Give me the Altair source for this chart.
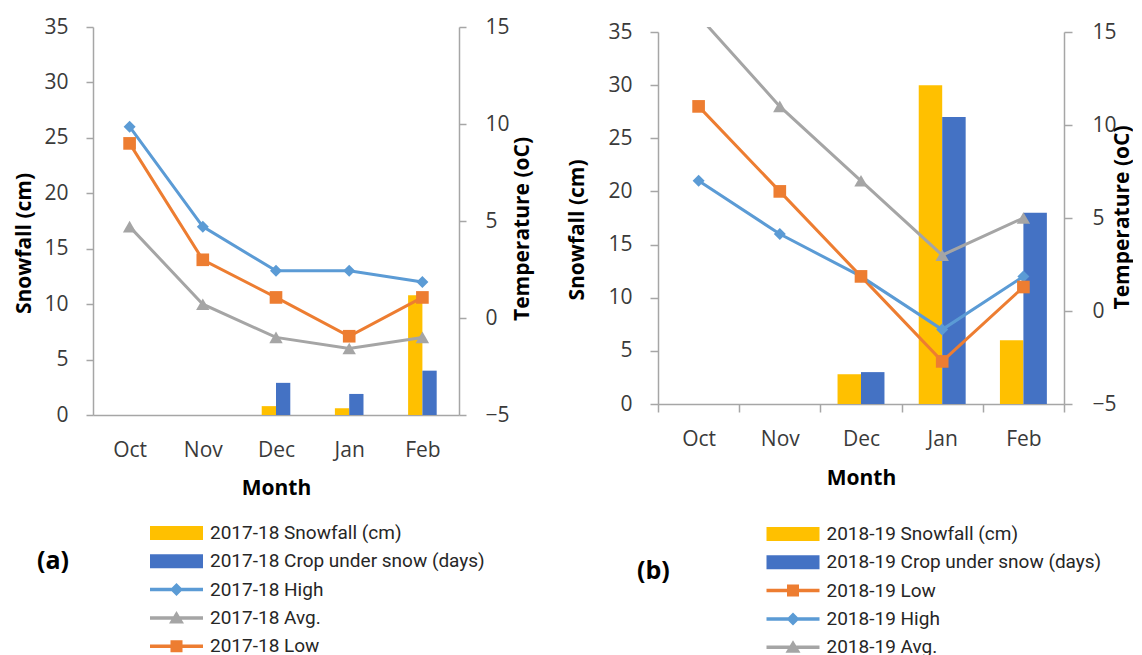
import altair as alt
import pandas as pd

months = ["Oct", "Nov", "Dec", "Jan", "Feb"]
month_idx = [0, 1, 2, 3, 4]

# ---- panel (a) 2017-18 ----
a_season = "2017-18"
a_snowfall = [0, 0, 0.8, 0.6, 10.8]
a_crop = [0, 0, 2.9, 1.9, 4.0]
a_high = [9.86, 4.71, 2.43, 2.43, 1.86]
a_avg = [4.71, 0.71, -1.0, -1.57, -1.0]
a_low = [9.0, 3.0, 1.06, -0.94, 1.06]

# ---- panel (b) 2018-19 ----
b_season = "2018-19"
b_snowfall = [0, 0, 2.8, 30.0, 6.0]
b_crop = [0, 0, 3.0, 27.0, 18.0]
b_low = [11.0, 6.43, 1.86, -2.71, 1.29]
b_high = [7.0, 4.14, 1.86, -1.0, 1.86]
b_avg = [15.86, 11.0, 7.0, 3.0, 5.0]

snow_ticks = [0, 5, 10, 15, 20, 25, 30, 35]
temp_ticks = [-5, 0, 5, 10, 15]

COLORS = {"snow": "#FFC000", "crop": "#4472C4", "high": "#5B9BD5",
          "avg": "#A5A5A5", "low": "#ED7D31"}
LINE_P = "M-5.3,-0.35H5.3V0.35H-5.3Z"
PATHS = {
    "snow": "M-5.3,-1.4H5.3V1.4H-5.3Z",
    "crop": "M-5.3,-1.4H5.3V1.4H-5.3Z",
    "high": LINE_P + "M-1.3,0L0,-1.3L1.3,0L0,1.3Z",
    "avg": LINE_P + "M-1.5,1.1L0,-1.4L1.5,1.1Z",
    "low": LINE_P + "M-1.2,-1.2H1.2V1.2H-1.2Z",
}
MARKERS = {"high": ("diamond", 144), "avg": ("triangle-up", 180), "low": ("square", 160)}
DRAW_ORDER = ["high", "avg", "low"]

GRAY = "#A6A6A6"
LABEL = "#3a3a3a"
FONT = "Open Sans"
LEG_FONT = "Roboto"


def panel(tag, season, snowfall, crop, temps, order, width, height, top_gap, n_pad, bar_pad,
          x_ticks, ytick, lpad_left, lpad_right, left_title_x, right_title_x,
          left_title_y, right_title_y, xlabel_pad, month_title_y,
          leg_width, leg_step, tag_dx, tag_dy, gap):
    names = {"snow": f"{season} Snowfall (cm)",
             "crop": f"{season} Crop under snow (days)",
             "high": f"{season} High", "avg": f"{season} Avg.", "low": f"{season} Low"}
    dom = [names[k] for k in order]
    pal = [COLORS[k] for k in order]
    paint_scale = alt.Scale(domain=dom, range=pal)
    shape_scale = alt.Scale(domain=dom, range=[PATHS[k] for k in order])

    bar_df = pd.DataFrame({
        "month": months * 2,
        "series": [names["snow"]] * 5 + [names["crop"]] * 5,
        "value": list(snowfall) + list(crop),
    })
    rows = []
    for k, vals in temps.items():
        for m, i, v in zip(months, month_idx, vals):
            rows.append({"month": m, "idx": i, "series": names[k], "kind": k, "temp": v})
    temp_df = pd.DataFrame(rows)

    x_axis = alt.Axis(
        title="Month", labelAngle=0, labelFont=FONT, labelFontSize=21, labelColor=LABEL,
        labelPadding=xlabel_pad, ticks=x_ticks, tickSize=8 if x_ticks else 0,
        tickBand="extent", tickColor=GRAY, tickWidth=1.5, domainColor=GRAY, domainWidth=1.5,
        titleFont=FONT, titleFontWeight="bold", titleFontSize=21, titleColor="#000000",
        titleY=month_title_y, titleBaseline="middle", grid=False)
    x_scale = alt.Scale(type="band", paddingInner=0, paddingOuter=0)
    x_enc = alt.X("month:N", sort=months, scale=x_scale, axis=x_axis)

    full_h = height + top_gap
    y_left = alt.Y("value:Q",
                   scale=alt.Scale(domain=[0, 35], nice=False, range=[full_h, top_gap]),
                   axis=alt.Axis(values=snow_ticks, title="Snowfall (cm)", orient="left",
                                 labelFont=FONT, labelFontSize=21, labelColor=LABEL,
                                 labelPadding=lpad_left, tickSize=ytick, tickColor=GRAY,
                                 tickWidth=1.5, domainColor=GRAY, domainWidth=1.5,
                                 titleFont=FONT, titleFontWeight="bold", titleFontSize=21,
                                 titleColor="#000000", titleAngle=270, titleX=left_title_x,
                                 titleY=left_title_y, titleBaseline="middle", grid=False))
    y_right = alt.Y("temp:Q",
                    scale=alt.Scale(domain=[-5, 15], nice=False, zero=False,
                                    range=[full_h, top_gap]),
                    axis=alt.Axis(values=temp_ticks, title="Temperature (oC)", orient="right",
                                  labelFont=FONT, labelFontSize=21, labelColor=LABEL,
                                  labelPadding=lpad_right, tickSize=ytick, tickColor=GRAY,
                                  tickWidth=1.5, domainColor=GRAY, domainWidth=1.5,
                                  titleFont=FONT, titleFontWeight="bold", titleFontSize=21,
                                  titleColor="#000000", titleAngle=270, titleX=right_title_x,
                                  titleY=right_title_y, titleBaseline="middle", grid=False))

    # sub-band layout inside each month: optional empty slots either side of the bar pair
    xoff_domain = (["pad_l"] * (1 if n_pad else 0) + [names["snow"], names["crop"]]
                   + ["pad_r"] * (1 if n_pad else 0))
    bars = alt.Chart(bar_df).mark_bar().encode(
        x=x_enc,
        xOffset=alt.XOffset("series:N", scale=alt.Scale(
            domain=xoff_domain, paddingInner=0, paddingOuter=bar_pad)),
        y=y_left,
        fill=alt.Fill("series:N", scale=paint_scale, legend=None),
    )

    lines = alt.Chart(temp_df).mark_line(strokeWidth=3, clip=True).encode(
        x=x_enc, y=y_right, order=alt.Order("idx:Q"),
        stroke=alt.Stroke("series:N", scale=paint_scale, legend=None),
    )
    pts = []
    for k in DRAW_ORDER:
        shp, sz = MARKERS[k]
        pts.append(alt.Chart(temp_df).transform_filter(alt.datum.kind == k).mark_point(
            shape=shp, size=sz, filled=True, opacity=1, clip=True, strokeWidth=0).encode(
            x=x_enc, y=y_right,
            fill=alt.Fill("series:N", scale=paint_scale, legend=None)))
    temp_layer = alt.layer(lines, *pts)

    plot = alt.layer(bars, temp_layer).resolve_scale(y="independent").properties(
        width=width, height=full_h)

    # ---- legend block drawn below the plot ----
    leg_df = pd.DataFrame({"series": dom})
    tag_df = pd.DataFrame({"series": [dom[1]], "tag": [tag]})
    y_leg = alt.Y("series:N", sort=dom, axis=None,
                  scale=alt.Scale(type="point", domain=dom, padding=0))
    sym = alt.Chart(leg_df).mark_point(filled=True, size=100, strokeWidth=0, opacity=1).encode(
        y=y_leg,
        shape=alt.Shape("series:N", scale=shape_scale, legend=None),
        fill=alt.Fill("series:N", scale=paint_scale, legend=None),
    )
    lab = alt.Chart(leg_df).mark_text(
        align="left", baseline="middle", dx=33.5, font=LEG_FONT, fontSize=19,
        color="#262626").encode(y=y_leg, text="series:N")
    tagm = alt.Chart(tag_df).mark_text(
        align="left", baseline="middle", dx=tag_dx, dy=tag_dy, font=FONT, fontSize=25,
        fontWeight="bold", color="#000000").encode(y=y_leg, text="tag:N")
    legend_block = alt.layer(sym, lab, tagm).properties(width=leg_width, height=4 * leg_step)

    return alt.vconcat(plot, legend_block, spacing=gap)


pa = panel("(a)", a_season, a_snowfall, a_crop,
           {"high": a_high, "avg": a_avg, "low": a_low},
           ["snow", "crop", "high", "avg", "low"],
           366, 388, 0, True, 0.56, False, 7, 18, 19, -69, 63, 216, 201.5, 24, 73,
           167, 28.3, -139.5, 0, 26)
pb = panel("(b)", b_season, b_snowfall, b_crop,
           {"low": b_low, "high": b_high, "avg": b_avg},
           ["snow", "crop", "low", "high", "avg"],
           406, 372, 5, False, 0.73, True, 8, 18, 20, -81, 58, 202.5, 190, 16, 74,
           270, 28.3, -156, 9, 37)

chart = alt.hconcat(pa, pb, spacing=34).resolve_scale(
    shape="independent", fill="independent", stroke="independent", xOffset="independent"
).properties(
    padding={"left": 5, "top": 8, "right": 1, "bottom": 0},
    background="white",
).configure_view(stroke="transparent", strokeWidth=0)

chart.save("out.html", embed_options={"renderer": "svg", "actions": False})
